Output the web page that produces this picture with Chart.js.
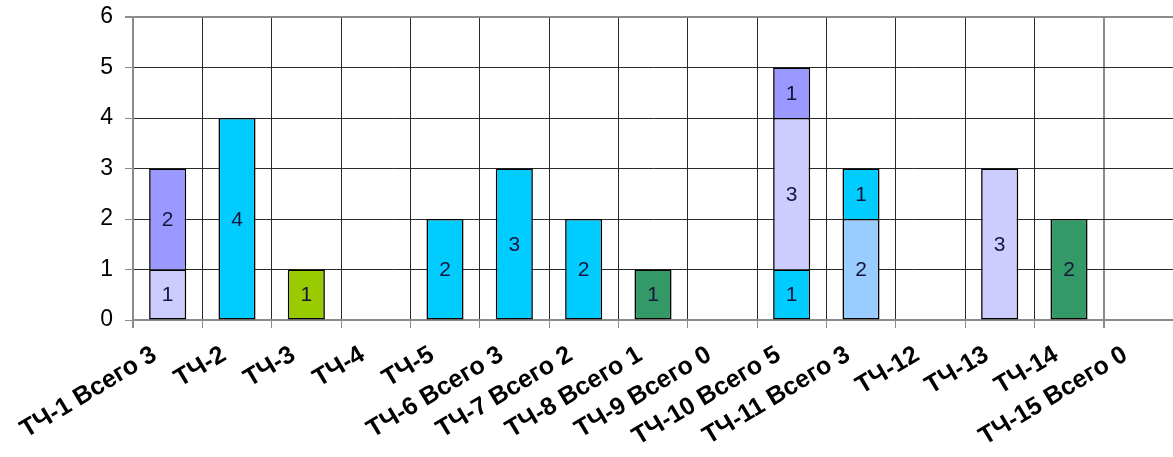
<!DOCTYPE html>
<html>
<head>
<meta charset="utf-8">
<script src="https://cdn.jsdelivr.net/npm/chart.js@4/dist/chart.umd.min.js"></script>
<style>
  html, body { margin: 0; padding: 0; background: #ffffff; overflow: hidden; }
  #wrap { width: 1173px; height: 457px; }
</style>
</head>
<body>
<div id="wrap"><canvas id="chart" width="1173" height="457"></canvas></div>
<script>
// Categories along the x axis
const categories = [
  'ТЧ-1 Всего 3', 'ТЧ-2', 'ТЧ-3', 'ТЧ-4', 'ТЧ-5',
  'ТЧ-6 Всего 3', 'ТЧ-7 Всего 2', 'ТЧ-8 Всего 1', 'ТЧ-9 Всего 0', 'ТЧ-10 Всего 5',
  'ТЧ-11 Всего 3', 'ТЧ-12', 'ТЧ-13', 'ТЧ-14', 'ТЧ-15 Всего 0'
];

// Stacked series, bottom to top (null = no segment)
const seriesLightBlue  = [null, null, null, null, null, null, null, null, null, null, 2, null, null, null, null];
const seriesCyan       = [null, 4, null, null, 2, 3, 2, null, null, 1, 1, null, null, null, null];
const seriesLavender   = [1, null, null, null, null, null, null, null, null, 3, null, null, 3, null, null];
const seriesPeriwinkle = [2, null, null, null, null, null, null, null, null, 1, null, null, null, null, null];
const seriesLime       = [null, null, 1, null, null, null, null, null, null, null, null, null, null, null, null];
const seriesGreen      = [null, null, null, null, null, null, null, 1, null, null, null, null, null, 2, null];

// Y axis tick values
const yTicks = [0, 1, 2, 3, 4, 5, 6];

const seriesList = [
  { name: 'Серия 1', data: seriesLightBlue,  color: '#99CCFF' },
  { name: 'Серия 2', data: seriesCyan,       color: '#00CCFF' },
  { name: 'Серия 3', data: seriesLavender,   color: '#CCCCFF' },
  { name: 'Серия 4', data: seriesPeriwinkle, color: '#9999FF' },
  { name: 'Серия 5', data: seriesLime,       color: '#99CC00' },
  { name: 'Серия 6', data: seriesGreen,      color: '#339966' }
];

// Single dividing line between stacked segments: only the lowest segment gets a bottom edge
function segmentBorder(ctx) {
  const i = ctx.dataIndex;
  const sets = ctx.chart.data.datasets;
  const lowest = sets.findIndex(d => d.data[i] != null && d.data[i] > 0);
  const w = 1.6;
  return { top: w, left: w, right: w, bottom: ctx.datasetIndex === lowest ? w : 0 };
}

// Value printed in the middle of each segment
const segmentLabels = {
  id: 'segmentLabels',
  afterDatasetsDraw(chart) {
    const c = chart.ctx;
    c.save();
    c.font = '21px "Liberation Sans", Arial, sans-serif';
    c.fillStyle = '#15153a';
    c.textAlign = 'center';
    c.textBaseline = 'middle';
    chart.data.datasets.forEach((ds, di) => {
      const meta = chart.getDatasetMeta(di);
      meta.data.forEach((bar, i) => {
        const v = ds.data[i];
        if (v == null || v === 0) return;
        const p = bar.getProps(['x', 'y', 'base'], true);
        c.fillText(String(v), p.x, (p.y + p.base) / 2 + 1);
      });
    });
    c.restore();
  }
};

const gridDark = '#2a2a2a';
const gridGray = '#8c8c8c';

new Chart(document.getElementById('chart'), {
  type: 'bar',
  data: {
    labels: categories,
    datasets: seriesList.map(s => ({
      label: s.name,
      data: s.data,
      backgroundColor: s.color,
      borderColor: '#000000',
      borderWidth: segmentBorder,
      borderSkipped: false,
      barPercentage: 0.535,
      categoryPercentage: 1.0
    }))
  },
  options: {
    responsive: false,
    animation: false,
    layout: { padding: { top: 17, right: 0, bottom: 0, left: 0 } },
    plugins: {
      legend: { display: false },
      tooltip: { enabled: false }
    },
    scales: {
      x: {
        stacked: true,
        z: 1,
        grid: {
          offset: true,
          color: ctx => (ctx.index === 0 || ctx.index === categories.length - 1) ? gridGray : gridDark,
          lineWidth: ctx => (ctx.index === 0 || ctx.index === categories.length - 1) ? 2 : 1,
          tickColor: gridGray,
          tickLength: 8,
          drawTicks: true
        },
        border: { display: true, color: gridGray, width: 2 },
        ticks: {
          autoSkip: false,
          maxRotation: 31,
          minRotation: 31,
          padding: 12,
          labelOffset: -13,
          color: '#000000',
          font: { family: '"Liberation Sans", Arial, sans-serif', size: 25, weight: 'bold' }
        },
        afterFit: scale => { scale.height = 137; }
      },
      y: {
        stacked: true,
        min: yTicks[0],
        max: yTicks[yTicks.length - 1],
        afterBuildTicks: scale => { scale.ticks = yTicks.map(v => ({ value: v })); },
        grid: {
          color: ctx => (ctx.tick && ctx.tick.value === yTicks[yTicks.length - 1]) ? gridGray : gridDark,
          lineWidth: ctx => (ctx.tick && ctx.tick.value === yTicks[yTicks.length - 1]) ? 2 : 1,
          tickColor: gridGray,
          tickLength: 8
        },
        border: { display: true, color: gridGray, width: 2 },
        ticks: {
          padding: 12,
          color: '#000000',
          font: { family: '"Liberation Sans", Arial, sans-serif', size: 23 }
        },
        afterFit: scale => {
          scale.width = 133;
          scale.paddingTop = 0;
          scale.paddingBottom = 0;
        }
      }
    }
  },
  plugins: [segmentLabels]
});
</script>
</body>
</html>
